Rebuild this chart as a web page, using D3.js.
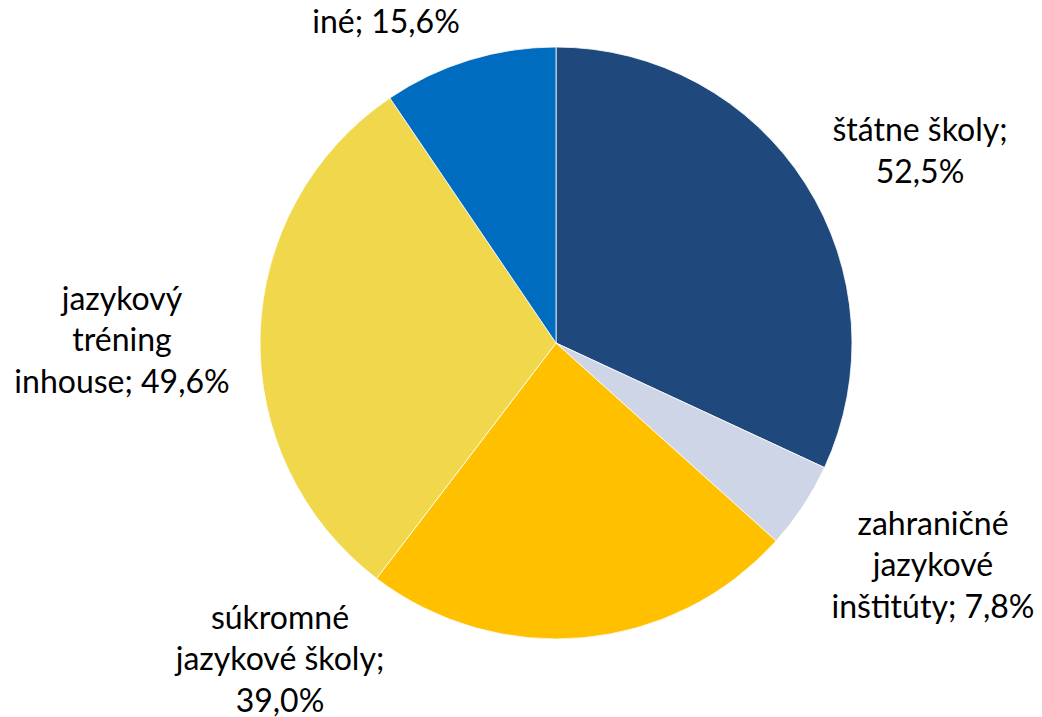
<!DOCTYPE html>
<html><head><meta charset="utf-8">
<script src="https://cdn.jsdelivr.net/npm/d3@7/dist/d3.min.js"></script>
<style>body{margin:0;background:#fff}svg{display:block}</style>
</head><body>
<svg id="chart" width="1042" height="717"></svg>
<script>
const categories = ["štátne školy", "zahraničné jazykové inštitúty", "súkromné jazykové školy", "jazykový tréning inhouse", "iné"];
const values = [52.5, 7.8, 39.0, 49.6, 15.6];
const valueLabels = ["52,5%", "7,8%", "39,0%", "49,6%", "15,6%"];
const labelLines = [
  ["štátne školy;", "52,5%"],
  ["zahraničné", "jazykové", "inštitúty; 7,8%"],
  ["súkromné", "jazykové školy;", "39,0%"],
  ["jazykový", "tréning", "inhouse; 49,6%"],
  ["iné; 15,6%"]
];
const colors = ["#1F497D", "#CDD5E6", "#FFC000", "#F0D74B", "#006CC0"];
// label block centers (layout)
const labelCenters = [[920,151],[933,565],[280,659],[122,340],[386,22]];

const svg = d3.select("#chart");
const cx = 556, cy = 343, r = 296;
const g = svg.append("g").attr("transform", `translate(${cx},${cy})`);
const data = categories.map((c,i)=>({c, v: values[i], i}));
const pie = d3.pie().sort(null).value(d=>d.v);
const arc = d3.arc().innerRadius(0).outerRadius(r);
g.selectAll("path").data(pie(data)).join("path")
  .attr("d", arc).attr("fill", d=>colors[d.data.i])
  .attr("stroke", "#fff").attr("stroke-width", 0.8);

const lh = 41.5;
labelLines.forEach((lines,i)=>{
  const [x,y] = labelCenters[i];
  const t = svg.append("text").attr("text-anchor","middle")
    .attr("font-family","Lato, 'Open Sans', sans-serif").attr("font-size",32).attr("fill","#000");
  const y0 = y - (lines.length-1)*lh/2 + 11;
  lines.forEach((l,k)=>t.append("tspan").attr("x",x).attr("y",y0+k*lh).text(l));
});
</script>
</body></html>
